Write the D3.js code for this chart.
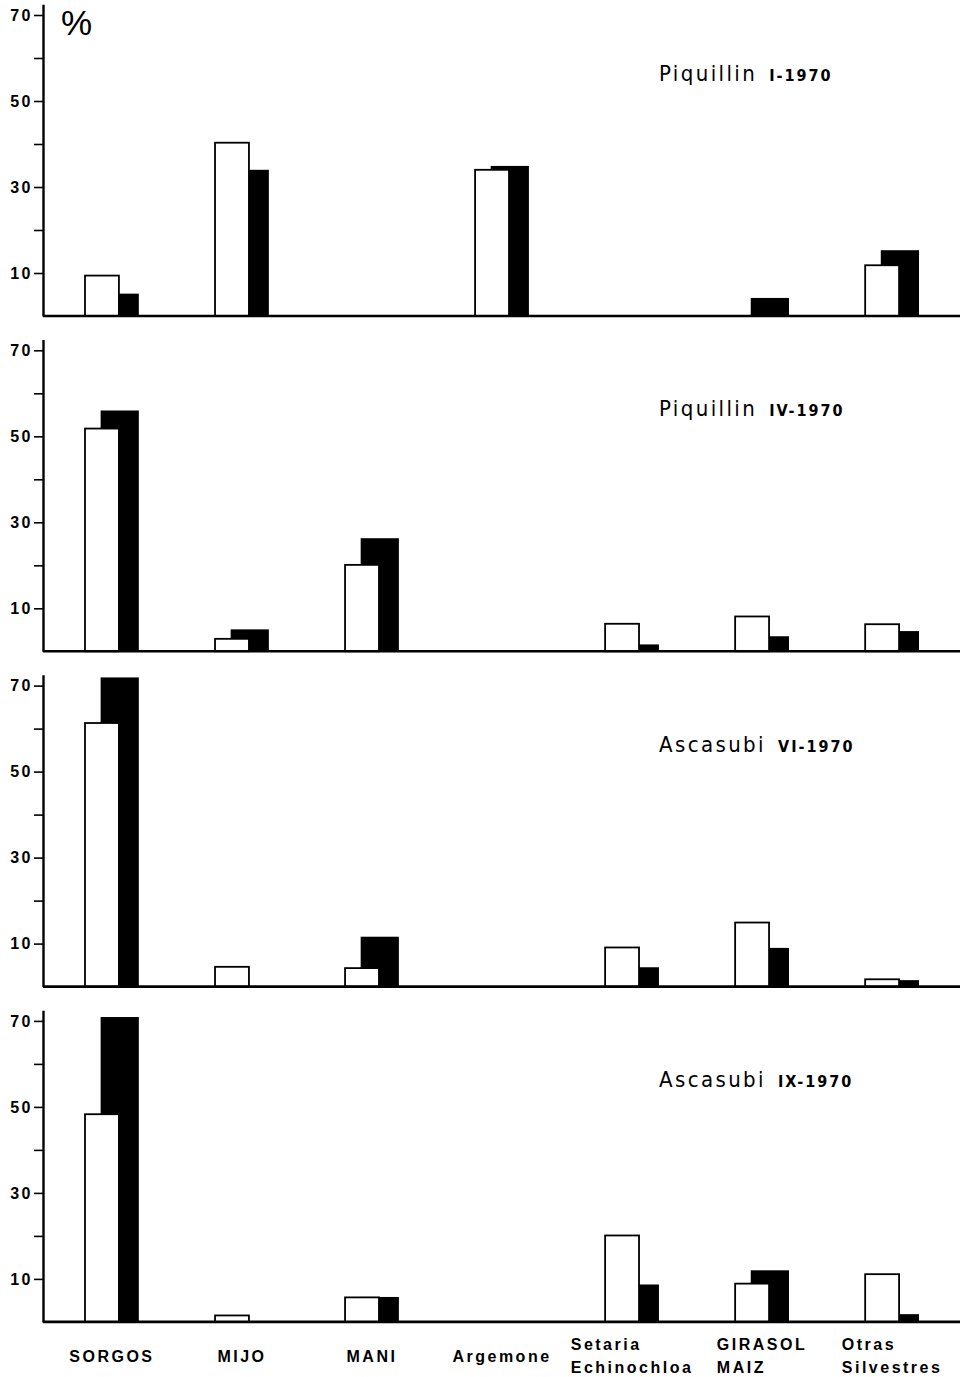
<!DOCTYPE html>
<html>
<head>
<meta charset="utf-8">
<script src="https://cdn.jsdelivr.net/npm/d3@7"></script>
<style>
  body { margin: 0; background: #fff; }
  svg { display: block; }
</style>
</head>
<body>
<script>
// categories along the bottom (a space marks a line break in the label)
const categories = ["SORGOS", "MIJO", "MANI", "Argemone", "Setaria Echinochloa", "GIRASOL MAIZ", "Otras Silvestres"];

// one panel per sample
const sites = ["Piquillin", "Piquillin", "Ascasubi", "Ascasubi"];
const periods = ["I-1970", "IV-1970", "VI-1970", "IX-1970"];

// % values, white (open) bars
const whiteValues = [
    [9.4, 40.3, 0, 34.0, 0, 0, 11.8],
    [51.8, 2.9, 20.1, 0, 6.4, 8.1, 6.3],
    [61.3, 4.6, 4.3, 0, 9.1, 14.9, 1.7],
    [48.3, 1.5, 5.7, 0, 20.1, 8.9, 11.1]
];
// % values, black (filled) bars
const blackValues = [
    [5.2, 34.0, 0, 34.9, 0, 4.2, 15.3],
    [56.0, 5.1, 26.3, 0, 1.6, 3.5, 4.7],
    [71.9, 0, 11.6, 0, 4.5, 9.0, 1.5],
    [70.9, 0, 5.8, 0, 8.7, 12.0, 1.8]
];

const yTicks = [10, 20, 30, 40, 50, 60, 70];
const yLabelled = [10, 30, 50, 70];

const width = 960, height = 1377;
const axisX = 43;
const firstBaseline = 316;
const panelStep = 335.3;
const unit = 4.3; // px per %
const yMax = 72.5;

const svg = d3.select("body").append("svg")
    .attr("width", width)
    .attr("height", height)
    .attr("font-family", "'Liberation Sans', Arial, sans-serif");

// band holds one white+black pair
const x = d3.scaleBand()
    .domain(categories)
    .range([85, 919])
    .paddingInner(0.586)
    .paddingOuter(0)
    .align(0);
const bw = x.bandwidth();
const whiteW = bw * 0.63;
const blackOff = bw * 0.29;

sites.forEach((site, p) => {
    const base = firstBaseline + p * panelStep;
    const y = d3.scaleLinear()
        .domain([0, yMax])
        .range([base, base - yMax * unit]);

    const g = svg.append("g");

    // black bars first, white drawn over them
    g.append("g").selectAll("rect")
        .data(categories.map((c, i) => ({ c, v: blackValues[p][i] })).filter(d => d.v > 0))
        .join("rect")
        .attr("x", d => x(d.c) + blackOff)
        .attr("y", d => y(d.v))
        .attr("width", bw - blackOff)
        .attr("height", d => y(0) - y(d.v))
        .attr("fill", "#000");

    g.append("g").selectAll("rect")
        .data(categories.map((c, i) => ({ c, v: whiteValues[p][i] })).filter(d => d.v > 0))
        .join("rect")
        .attr("x", d => x(d.c))
        .attr("y", d => y(d.v))
        .attr("width", whiteW)
        .attr("height", d => y(0) - y(d.v))
        .attr("fill", "#fff")
        .attr("stroke", "#000")
        .attr("stroke-width", 1.8);

    // baseline
    g.append("line")
        .attr("x1", axisX).attr("x2", width)
        .attr("y1", y(0)).attr("y2", y(0))
        .attr("stroke", "#000")
        .attr("stroke-width", 2.6);

    // y axis
    const yAxis = g.append("g")
        .attr("transform", `translate(${axisX},0)`)
        .call(d3.axisLeft(y)
            .tickValues(yTicks)
            .tickSize(9)
            .tickSizeOuter(0)
            .tickPadding(1)
            .tickFormat(d => yLabelled.includes(d) ? d : ""));
    yAxis.select(".domain").attr("stroke-width", 2.4);
    yAxis.selectAll(".tick line").attr("stroke-width", 1.6);
    yAxis.selectAll(".tick text")
        .attr("font-size", 16)
        .attr("font-weight", "bold")
        .attr("letter-spacing", 2.5)
        .attr("fill", "#000");

    // panel title
    const title = g.append("text")
        .attr("x", 659)
        .attr("y", base - 235)
        .attr("fill", "#000");
    title.append("tspan")
        .attr("font-family", "'DejaVu Sans Condensed', 'DejaVu Sans', sans-serif")
        .attr("font-size", 22)
        .attr("letter-spacing", 2.4)
        .text(site);
    title.append("tspan")
        .attr("dx", 12)
        .attr("font-family", "'DejaVu Sans Condensed', 'DejaVu Sans', sans-serif")
        .attr("font-size", 16)
        .attr("font-weight", "bold")
        .attr("letter-spacing", 2)
        .text(periods[p]);

    if (p === 0) {
        g.append("text")
            .attr("x", 61)
            .attr("y", base - yMax * unit + 31)
            .attr("font-size", 35)
            .attr("fill", "#000")
            .text("%");
    }
});

// category labels under the last panel
const labelBase = firstBaseline + 3 * panelStep;
categories.forEach(c => {
    const lines = c.split(" ");
    const cx = x(c) + bw / 2;
    const t = svg.append("text")
        .attr("font-size", 16)
        .attr("font-weight", "bold")
        .attr("letter-spacing", 2.5)
        .attr("fill", "#000");
    lines.forEach((line, i) => {
        t.append("tspan")
            .attr("x", 0)
            .attr("y", lines.length === 1 ? labelBase + 40 : labelBase + 28 + i * 23)
            .text(line);
    });
    // centre the block, lines left-aligned
    const w = t.node().getBBox().width;
    t.selectAll("tspan").attr("x", cx - w / 2);
});
</script>
</body>
</html>
